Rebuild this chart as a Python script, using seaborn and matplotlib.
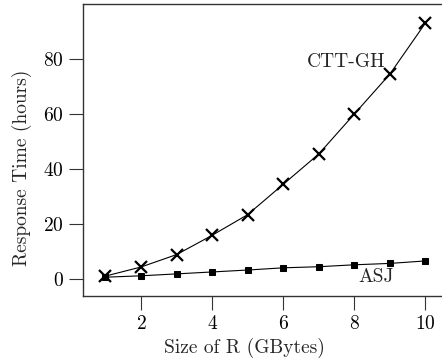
import pandas as pd
import matplotlib
matplotlib.use("Agg")
import matplotlib.pyplot as plt
import seaborn as sns

# Data
size_gb = [1, 2, 3, 4, 5, 6, 7, 8, 9, 10]
ctt_gh = [1.2, 4.5, 9.0, 16.0, 23.5, 34.5, 45.5, 60.0, 74.5, 93.0]
asj = [0.8, 1.3, 2.0, 2.7, 3.4, 4.2, 4.6, 5.3, 5.8, 6.7]

sns.set_style("ticks")
plt.rcParams.update({
    'font.family': 'serif',
    'font.serif': ['cmr10'],
    'mathtext.fontset': 'cm',
    'axes.formatter.use_mathtext': True,
    'font.size': 14,
})

df = pd.DataFrame({'size': size_gb, 'ctt': ctt_gh, 'asj': asj})

fig = plt.figure(figsize=(4.42, 3.6), dpi=100)
ax = fig.add_axes([0.188, 0.178, 0.812, 0.811])

sns.lineplot(data=df, x='size', y='ctt', ax=ax, color='black', lw=0.8,
             marker='x', markersize=8, markeredgewidth=1.6, markeredgecolor='black')
sns.lineplot(data=df, x='size', y='asj', ax=ax, color='black', lw=0.8,
             marker='s', markersize=4, markeredgecolor='black')

ax.text(8.87, 79, "CTT-GH", ha='right', va='center', fontsize=14)
ax.text(8.62, 0.7, "ASJ", ha='center', va='center', fontsize=14)

ax.set_xlim(0.37, 10.47)
ax.set_ylim(-6, 100)
ax.set_xticks([2, 4, 6, 8, 10])
ax.set_yticks([0, 20, 40, 60, 80])
ax.set_xlabel("Size of R (GBytes)", fontsize=14)
ax.set_ylabel("Response Time (hours)", fontsize=14)
# labels sit off-centre in the original
ax.xaxis.set_label_coords(0.45, -0.142)
ax.yaxis.set_label_coords(-0.142, 0.44)
ax.spines['right'].set_visible(False)
for s in ['left', 'top', 'bottom']:
    ax.spines[s].set_linewidth(1.0)
    ax.spines[s].set_color('#333333')
ax.tick_params(direction='out', length=10, width=0.8, colors='#333333',
               labelcolor='black', labelsize=14, pad=4)

fig.savefig("out.png", dpi=100)
